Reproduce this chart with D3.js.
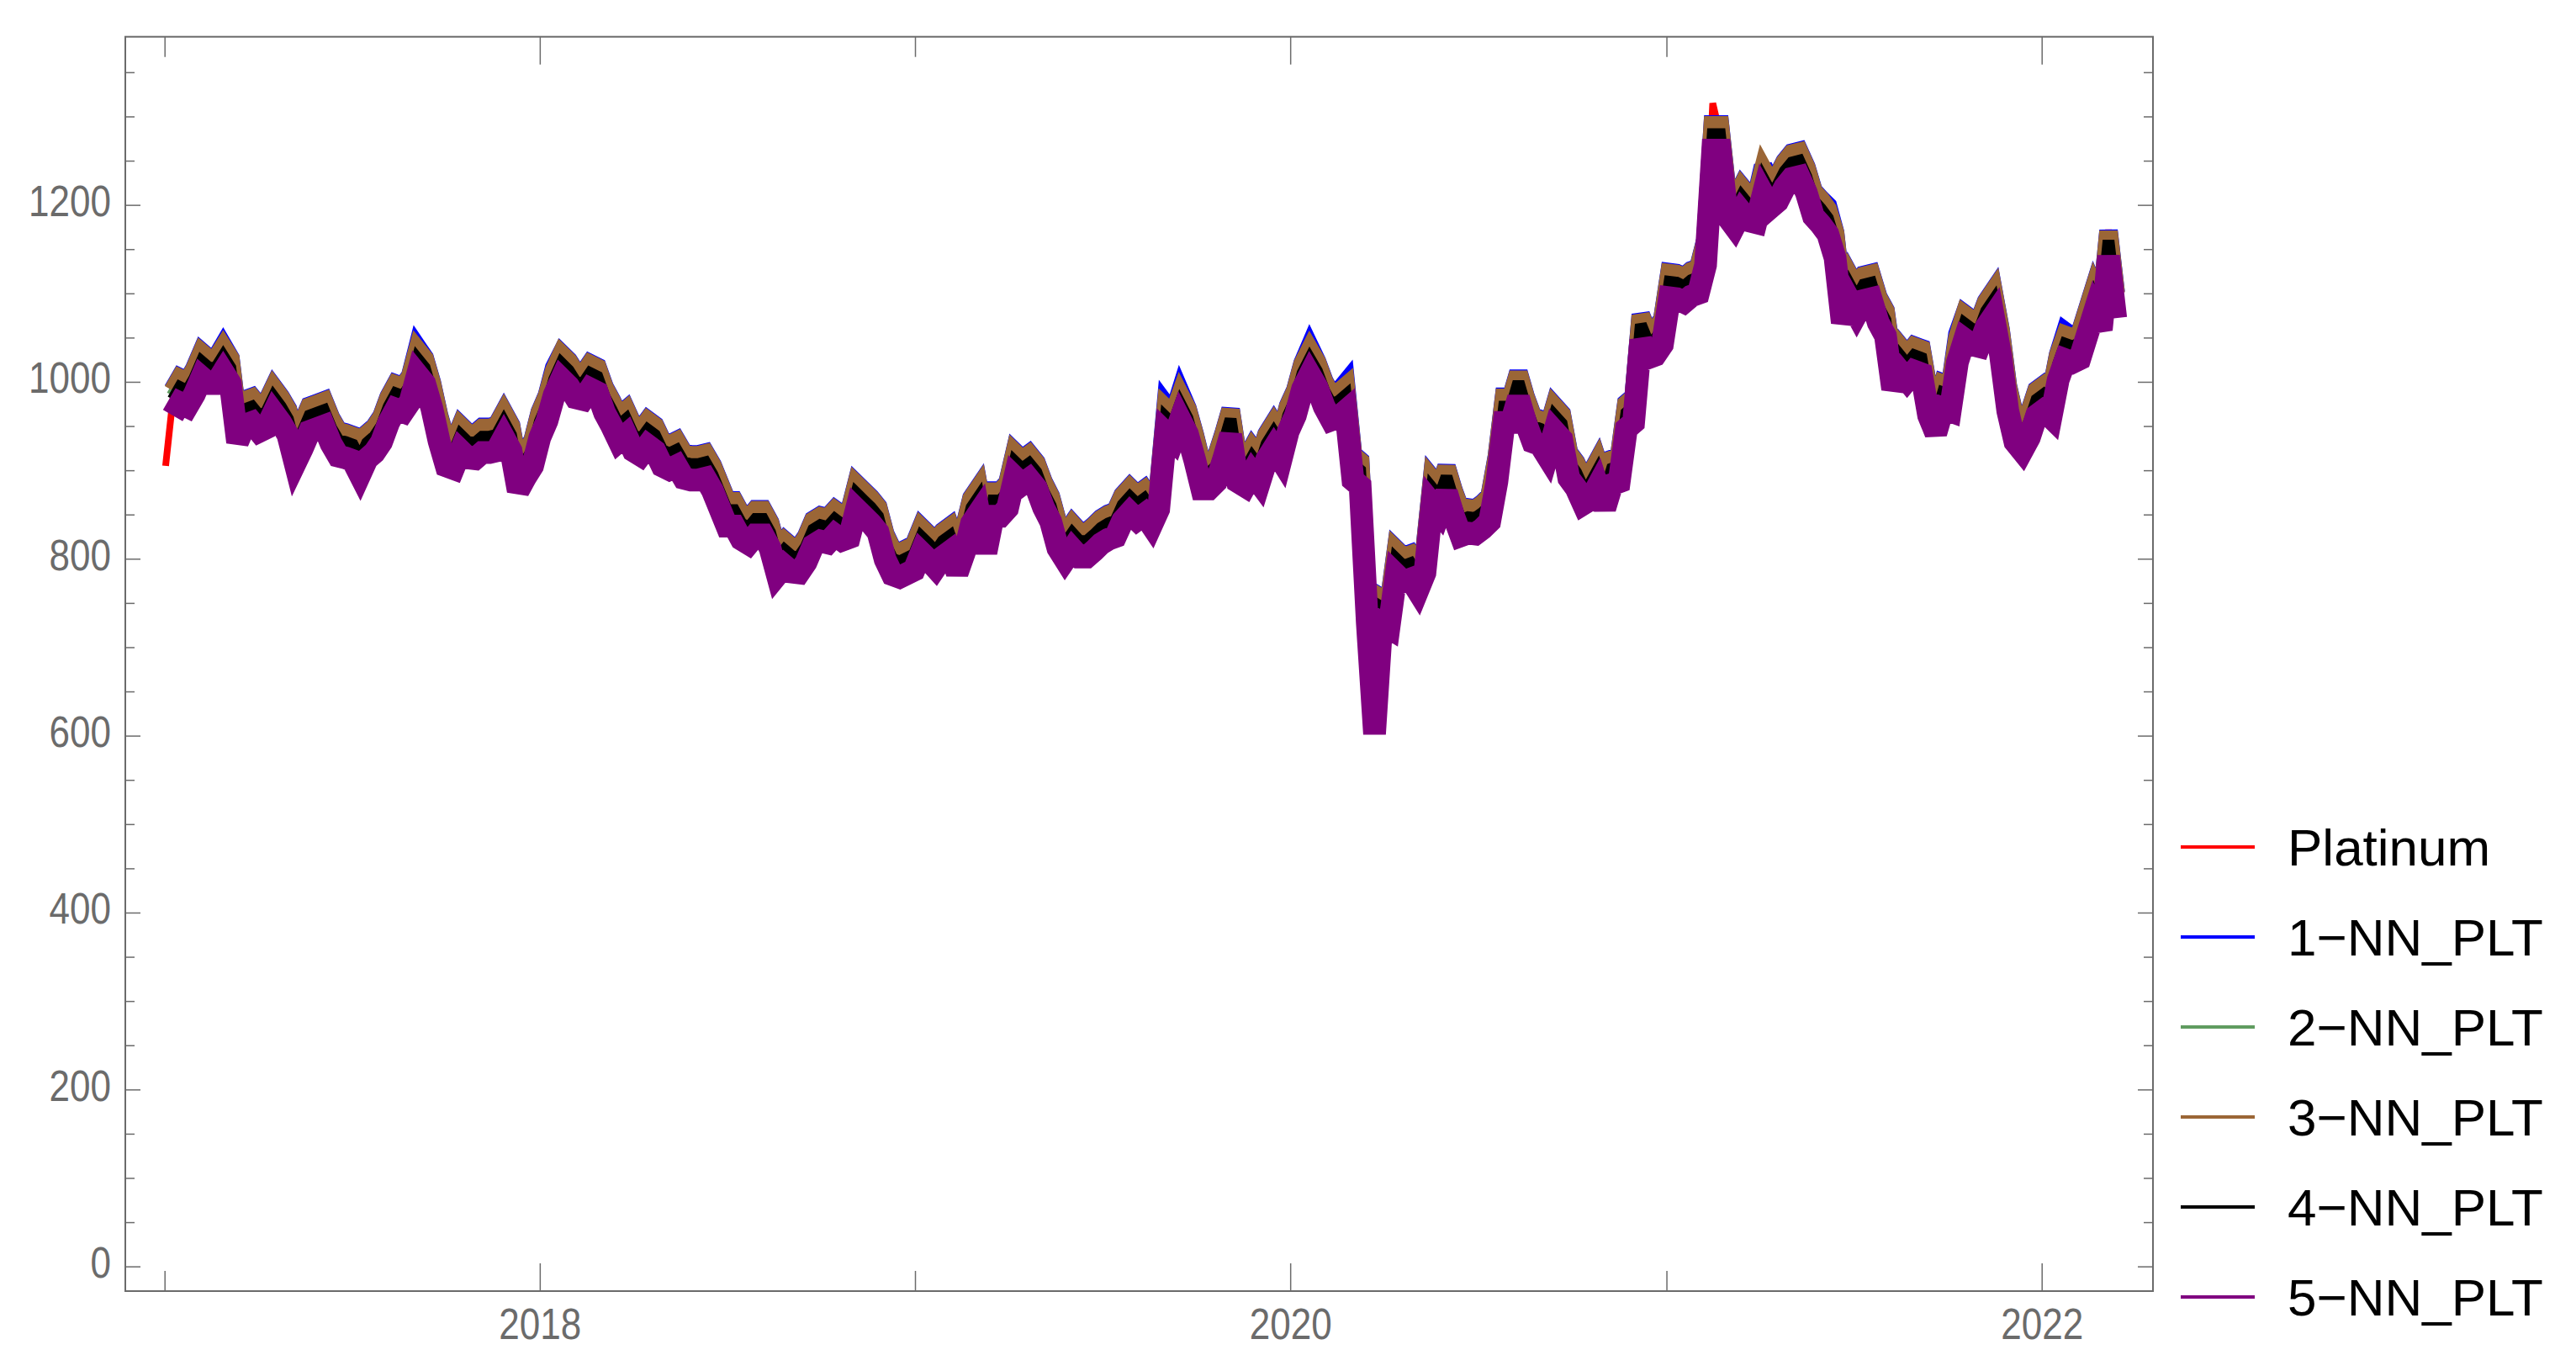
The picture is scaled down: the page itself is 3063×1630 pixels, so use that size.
<!DOCTYPE html>
<html>
<head>
<meta charset="utf-8">
<script src="https://cdn.jsdelivr.net/npm/d3@7"></script>
<style>
  html, body { margin: 0; padding: 0; background: #ffffff; }
  svg { display: block; }
</style>
</head>
<body>
<svg id="chart" width="3063" height="1630"></svg>
<script>
// ---------------- DATA (weekly samples, first week starting 2017-01-02) ----------------
const startDate = "2017-01-02";
const stepDays = 7;

const seriesNames = ["Platinum", "1\u2212NN_PLT", "2\u2212NN_PLT", "3\u2212NN_PLT", "4\u2212NN_PLT", "5\u2212NN_PLT"];
const seriesColors = ["#ff0000", "#0000ff", "#609c60", "#9b6636", "#000000", "#800080"];

const platinum = [905,980,994,990,1004,1023,1016,1016,1029,1016,
950,969,972,962,966,983,972,958,926,943,
962,965,968,948,934,932,929,913,931,938,
950,972,987,984,996,1026,1016,988,951,923,
920,940,932,931,938,938,940,955,940,895,
910,923,955,974,1003,1021,1013,1000,998,1010,
1006,983,968,951,958,940,935,946,940,923,
919,923,909,907,907,909,895,875,855,855,
840,835,845,845,830,800,810,803,802,814,
833,838,836,845,839,842,874,866,858,848,
817,800,797,801,805,825,817,808,820,826,
802,825,858,870,825,866,866,875,910,902,
908,898,876,860,830,817,829,820,820,827,
835,840,843,861,870,862,868,856,874,960,
952,975,959,930,897,897,905,930,958,905,
900,915,904,930,943,930,962,980,1010,1026,
1012,990,975,978,985,907,900,745,605,745,
740,800,792,795,782,802,880,870,893,866,
844,847,846,852,860,905,972,972,1000,972,
950,947,934,962,953,909,898,880,885,900,
875,902,905,965,972,1065,1045,1048,1060,1113,
1112,1108,1115,1118,1150,1315,1280,1205,1194,1210,
1200,1198,1230,1215,1222,1238,1248,1250,1232,1205,
1196,1185,1158,1085,1110,1095,1110,1112,1085,1070,
1010,1030,1020,1030,1027,980,960,988,985,1040,
1066,1060,1058,1080,1092,1048,985,950,940,955,
980,986,978,1020,1043,1040,1044,1070,1096,1077,
1172,1090];

const nn1 = [null,991,1005,1001,1015,1034,1027,1027,1041,1027,
961,980,983,973,977,994,983,969,937,954,
973,976,979,959,945,943,940,924,942,949,
961,983,998,995,1007,1039,1027,999,962,934,
931,951,943,942,949,949,951,966,951,906,
921,934,966,985,1016,1032,1024,1011,1009,1021,
1017,994,979,962,969,951,946,957,951,934,
930,934,920,918,918,920,906,886,866,866,
851,846,856,856,841,811,821,814,813,825,
844,849,847,856,850,853,885,877,869,859,
828,811,808,812,816,836,828,819,831,837,
813,836,869,881,836,877,877,886,921,913,
919,909,887,871,841,828,840,831,831,838,
846,851,854,872,881,873,879,867,885,974,
963,989,970,941,908,908,916,941,969,916,
911,926,915,941,954,941,973,991,1021,1040,
1023,1001,986,989,999,918,911,756,631,756,
751,811,803,806,793,813,891,881,904,877,
855,858,857,863,871,916,983,983,1011,983,
961,958,945,973,964,920,909,891,896,911,
886,913,916,976,983,1076,1056,1059,1071,1124,
1123,1119,1126,1129,1161,1291,1291,1216,1205,1221,
1211,1209,1244,1226,1233,1249,1259,1261,1243,1216,
1207,1199,1169,1096,1121,1106,1121,1123,1096,1081,
1024,1041,1031,1041,1038,991,971,999,996,1054,
1077,1071,1069,1091,1103,1059,996,961,951,966,
991,997,989,1031,1057,1051,1055,1081,1107,1088,
1171,1101];

const nn2 = [null,984,998,994,1008,1027,1020,1020,1033,1020,
954,973,976,966,970,987,976,962,930,947,
966,969,972,952,938,936,933,917,935,942,
954,976,991,988,1000,1030,1020,992,955,927,
924,944,936,935,942,942,944,959,944,899,
914,927,959,978,1007,1025,1017,1004,1002,1014,
1010,987,972,955,962,944,939,950,944,927,
923,927,913,911,911,913,899,879,859,859,
844,839,849,849,834,804,814,807,806,818,
837,842,840,849,843,846,878,870,862,852,
821,804,801,805,809,829,821,812,824,830,
806,829,862,874,829,870,870,879,914,906,
912,902,880,864,834,821,833,824,824,831,
839,844,847,865,874,866,872,860,878,964,
956,979,963,934,901,901,909,934,962,909,
904,919,908,934,947,934,966,984,1014,1030,
1016,994,979,982,989,911,904,749,624,749,
744,804,796,799,786,806,884,874,897,870,
848,851,850,856,864,909,976,976,1004,976,
954,951,938,966,957,913,902,884,889,904,
879,906,909,969,976,1069,1049,1052,1064,1117,
1116,1112,1119,1122,1154,1284,1284,1209,1198,1214,
1204,1202,1234,1219,1226,1242,1252,1254,1236,1209,
1200,1189,1162,1089,1114,1099,1114,1116,1089,1074,
1014,1034,1024,1034,1031,984,964,992,989,1044,
1070,1064,1062,1084,1096,1052,989,954,944,959,
984,990,982,1024,1047,1044,1048,1074,1100,1081,
1164,1094];

const nn3 = [null,990,1004,1000,1014,1033,1026,1026,1039,1026,
960,979,982,972,976,993,982,968,936,953,
972,975,978,958,944,942,939,923,941,948,
960,982,997,994,1006,1036,1026,998,961,933,
930,950,942,941,948,948,950,965,950,905,
920,933,965,984,1013,1031,1023,1010,1008,1020,
1016,993,978,961,968,950,945,956,950,933,
929,933,919,917,917,919,905,885,865,865,
850,845,855,855,840,810,820,813,812,824,
843,848,846,855,849,852,884,876,868,858,
827,810,807,811,815,835,827,818,830,836,
812,835,868,880,835,876,876,885,920,912,
918,908,886,870,840,827,839,830,830,837,
845,850,853,871,880,872,878,866,884,970,
962,985,969,940,907,907,915,940,968,915,
910,925,914,940,953,940,972,990,1020,1036,
1022,1000,985,988,995,917,910,755,630,755,
750,810,802,805,792,812,890,880,903,876,
854,857,856,862,870,915,982,982,1010,982,
960,957,944,972,963,919,908,890,895,910,
885,912,915,975,982,1075,1055,1058,1070,1123,
1122,1118,1125,1128,1160,1290,1290,1215,1204,1220,
1210,1208,1240,1225,1232,1248,1258,1260,1242,1215,
1206,1195,1168,1095,1120,1105,1120,1122,1095,1080,
1020,1040,1030,1040,1037,990,970,998,995,1050,
1076,1070,1068,1090,1102,1058,995,960,950,965,
990,996,988,1030,1053,1050,1054,1080,1106,1087,
1170,1100];

const nn4 = [null,980,994,990,1004,1023,1016,1016,1029,1016,
950,969,972,962,966,983,972,958,926,943,
962,965,968,948,934,932,929,913,931,938,
950,972,987,984,996,1026,1016,988,951,923,
920,940,932,931,938,938,940,955,940,895,
910,923,955,974,1003,1021,1013,1000,998,1010,
1006,983,968,951,958,940,935,946,940,923,
919,923,909,907,907,909,895,875,855,855,
840,835,845,845,830,800,810,803,802,814,
833,838,836,845,839,842,874,866,858,848,
817,800,797,801,805,825,817,808,820,826,
802,825,858,870,825,866,866,875,910,902,
908,898,876,860,830,817,829,820,820,827,
835,840,843,861,870,862,868,856,874,960,
952,975,959,930,897,897,905,930,958,905,
900,915,904,930,943,930,962,980,1010,1026,
1012,990,975,978,985,907,900,745,620,745,
740,800,792,795,782,802,880,870,893,866,
844,847,846,852,860,905,972,972,1000,972,
950,947,934,962,953,909,898,880,885,900,
875,902,905,965,972,1065,1045,1048,1060,1113,
1112,1108,1115,1118,1150,1280,1280,1205,1194,1210,
1200,1198,1230,1215,1222,1238,1248,1250,1232,1205,
1196,1185,1158,1085,1110,1095,1110,1112,1085,1070,
1010,1030,1020,1030,1027,980,960,988,985,1040,
1066,1060,1058,1080,1092,1048,985,950,940,955,
980,986,978,1020,1043,1040,1044,1070,1096,1077,
1160,1090];

const nn5 = [null,962,976,972,986,1005,998,998,1011,998,
932,951,954,944,948,965,954,940,908,925,
944,947,950,930,916,914,911,895,913,920,
932,954,969,966,978,1008,998,970,933,905,
902,922,914,913,920,920,922,937,922,877,
892,905,937,956,985,1003,995,982,980,992,
988,965,950,933,940,922,917,928,922,905,
901,905,891,889,889,891,877,857,837,837,
822,817,827,827,812,782,792,785,784,796,
815,820,818,827,821,824,856,848,840,830,
799,782,779,783,787,807,799,790,802,808,
784,807,840,852,807,848,848,857,892,884,
890,880,858,842,812,799,811,802,802,809,
817,822,825,843,852,844,850,838,856,942,
934,957,941,912,879,879,887,912,940,887,
882,897,886,912,925,912,944,962,992,1008,
994,972,957,960,967,889,882,727,602,727,
722,782,774,777,764,784,862,852,875,848,
826,829,828,834,842,887,954,954,982,954,
932,929,916,944,935,891,880,862,867,882,
857,884,887,947,954,1047,1027,1030,1042,1095,
1094,1090,1097,1100,1132,1262,1262,1187,1176,1192,
1182,1180,1212,1197,1204,1220,1230,1232,1214,1187,
1178,1167,1140,1067,1092,1077,1092,1094,1067,1052,
992,1012,1002,1012,1009,962,942,970,967,1022,
1048,1042,1040,1062,1074,1030,967,932,922,937,
962,968,960,1002,1025,1022,1026,1052,1078,1059,
1142,1072];

const yearTicks = [2017, 2018, 2019, 2020, 2021, 2022];
const yearLabels = ["", "2018", "", "2020", "", "2022"];
const yMajorTicks = [0, 200, 400, 600, 800, 1000, 1200];
const yMinorTicks = [50,100,150,250,300,350,450,500,550,650,700,750,850,900,950,1050,1100,1150,1250,1300,1350];

// ---------------- LAYOUT ----------------
const frame = { left: 149, right: 2560, top: 43.7, bottom: 1535 };
const svg = d3.select("#chart");
svg.append("rect").attr("width", 3063).attr("height", 1630).attr("fill", "#ffffff");

const start = new Date(startDate + "T00:00:00Z");
const dates = platinum.map((_, i) => d3.utcDay.offset(start, i * stepDays));

const x = d3.scaleUtc()
  .domain([new Date(Date.UTC(2017, 0, 1)), new Date(Date.UTC(2022, 0, 1))])
  .range([195.7, 2427.7]);
const y = d3.scaleLinear().domain([-27.9, 1390.1]).range([frame.bottom, frame.top]);

const axisColor = "#6b6b6b";
const tickFont = "'Liberation Sans', Arial, sans-serif";
const digitWidth = 24.5;

svg.append("clipPath").attr("id", "plotclip").append("rect")
  .attr("x", frame.left).attr("y", frame.top)
  .attr("width", frame.right - frame.left).attr("height", frame.bottom - frame.top);

// ---------------- LINES ----------------
const series = [platinum, nn1, nn2, nn3, nn4, nn5];
const widths = [8, 22, 16, 22, 14, 27];
const line = d3.line()
  .defined(d => d != null)
  .x((d, i) => x(dates[i]))
  .y(d => y(d))
  .curve(d3.curveLinear);

const gLines = svg.append("g").attr("clip-path", "url(#plotclip)");
series.forEach((s, si) => {
  gLines.append("path")
    .datum(s)
    .attr("fill", "none")
    .attr("stroke", seriesColors[si])
    .attr("stroke-width", widths[si])
    .attr("stroke-linejoin", "miter")
    .attr("stroke-miterlimit", 3)
    .attr("d", line);
});

// ---------------- FRAME & AXES ----------------
svg.append("rect")
  .attr("x", frame.left).attr("y", frame.top)
  .attr("width", frame.right - frame.left).attr("height", frame.bottom - frame.top)
  .attr("fill", "none").attr("stroke", axisColor).attr("stroke-width", 2);

const yearDates = yearTicks.map(yr => new Date(Date.UTC(yr, 0, 1)));

function narrow(sel) {
  sel.each(function() {
    const t = d3.select(this);
    const s = t.text();
    if (s.length) t.attr("textLength", digitWidth * s.length).attr("lengthAdjust", "spacingAndGlyphs");
  });
}

// bottom axis (ticks inward)
const gxb = svg.append("g").attr("transform", `translate(0,${frame.bottom})`)
  .call(d3.axisBottom(x).tickValues(yearDates).tickSize(-24).tickPadding(0)
    .tickFormat((d, i) => yearLabels[i]));
gxb.select(".domain").remove();
gxb.selectAll(".tick line").attr("stroke", axisColor).attr("stroke-width", 1.5)
  .attr("y2", (d, i) => yearLabels[i] ? -33 : -24);
gxb.selectAll(".tick text").attr("y", 57).attr("dy", null)
  .attr("fill", axisColor).attr("font-size", 52).attr("font-family", tickFont)
  .call(narrow);

// top axis mirror
const gxt = svg.append("g").attr("transform", `translate(0,${frame.top})`)
  .call(d3.axisTop(x).tickValues(yearDates).tickSize(-24).tickFormat(""));
gxt.select(".domain").remove();
gxt.selectAll(".tick line").attr("stroke", axisColor).attr("stroke-width", 1.5)
  .attr("y2", (d, i) => yearLabels[i] ? 33 : 24);

// left axis
const allY = yMajorTicks.concat(yMinorTicks);
const gyl = svg.append("g").attr("transform", `translate(${frame.left},0)`)
  .call(d3.axisLeft(y).tickValues(allY).tickSize(-11).tickPadding(17)
    .tickFormat(d => yMajorTicks.includes(d) ? d3.format("d")(d) : ""));
gyl.select(".domain").remove();
gyl.selectAll(".tick line").attr("stroke", axisColor).attr("stroke-width", 1.5)
  .attr("x2", d => yMajorTicks.includes(d) ? 18 : 11);
gyl.selectAll(".tick text").attr("dy", 13)
  .attr("fill", axisColor).attr("font-size", 52).attr("font-family", tickFont)
  .call(narrow);

// right axis mirror
const gyr = svg.append("g").attr("transform", `translate(${frame.right},0)`)
  .call(d3.axisRight(y).tickValues(allY).tickSize(-11).tickFormat(""));
gyr.select(".domain").remove();
gyr.selectAll(".tick line").attr("stroke", axisColor).attr("stroke-width", 1.5)
  .attr("x2", d => yMajorTicks.includes(d) ? -18 : -11);

// ---------------- LEGEND ----------------
const legend = svg.append("g");
const legendY = d3.scaleLinear().domain([0, 1]).range([1007, 1114]);
seriesNames.forEach((name, i) => {
  const yy = legendY(i);
  legend.append("line")
    .attr("x1", 2593).attr("x2", 2681).attr("y1", yy).attr("y2", yy)
    .attr("stroke", seriesColors[i]).attr("stroke-width", 4);
  legend.append("text")
    .attr("x", 2720).attr("y", yy + 22)
    .attr("font-family", "'Liberation Sans', Arial, sans-serif")
    .attr("font-size", 62).attr("fill", "#000000")
    .text(name);
});
</script>
</body>
</html>
